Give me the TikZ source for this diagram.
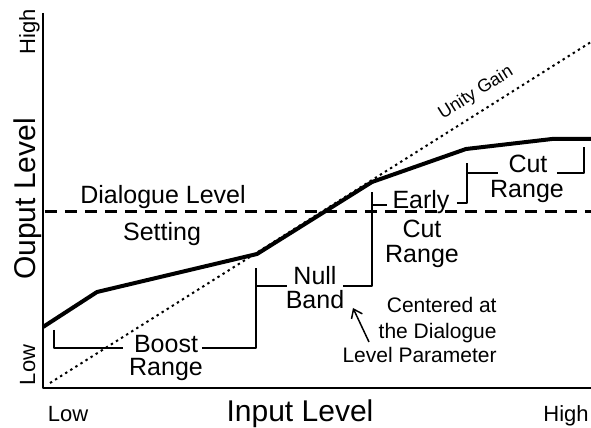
\documentclass[tikz,border=0pt]{standalone}
\usepackage{fontspec}
\setmainfont{Liberation Sans}
\usetikzlibrary{arrows.meta}
\begin{document}
\begin{tikzpicture}[x=.5pt,y=-.5pt,line join=round,
  lab/.style={inner sep=0pt,anchor=base,font=\fontsize{12.5}{15}\selectfont},
  ax/.style={inner sep=0pt,anchor=base,font=\fontsize{11}{13}\selectfont},
  ttl/.style={inner sep=0pt,anchor=base,font=\fontsize{15}{18}\selectfont},
  note/.style={inner sep=0pt,anchor=base east,font=\fontsize{10.5}{12.5}\selectfont},
  brk/.style={line width=.75pt}]
\useasboundingbox (0,0) rectangle (591,428);
% axes
\draw[line width=1pt] (43,13)--(43,388)--(591,388);
\node[ax,rotate=90] (yhi) at (35,32) {High};
\node[ax,rotate=90] (ylo) at (35,365) {Low};
\node[ttl,rotate=90] (ylab) at (35,199) {Ouput Level};
\node[ax] (xlo) at (68,422) {Low};
\node[ttl] (xlab) at (300,422) {Input Level};
\node[ax] (xhi) at (566,422) {High};
% unity gain
\draw[line width=1pt,dash pattern=on 1.2pt off 1.8pt] (50,383)--(591,42);
\node[rotate=32,inner sep=0pt,font=\fontsize{9}{11}\selectfont] (unity) at (476,93) {Unity Gain};
% dialogue level
\draw[line width=1.5pt,dash pattern=on 6pt off 4pt] (45,212)--(591,212);
\node[lab] (dlg) at (163,204) {Dialogue Level};
\node[lab] (set) at (162,241) {Setting};
% gain curve
\draw[line width=2pt] (43,327)--(97,292)--(257,254)--(372,182)--(466,149)--(552,139)--(591,139);
% ranges
\draw[brk] (54,330)--(54,348)--(123,348) (202,348)--(256,348)--(256,268);
\draw[brk] (256,286)--(287,286) (343,286)--(372,286)--(372,192);
\draw[brk] (372,205)--(387,205) (457,203)--(467,203)--(467,163);
\draw[brk] (467,173)--(498,173) (557,173)--(584,173)--(584,147);
\node[lab] (boost) at (166,352) {Boost};
\node[lab] (boostr) at (166,376) {Range};
\node[lab] (null) at (315,285) {Null};
\node[lab] (band) at (315,308) {Band};
\node[lab] (early) at (421,208) {Early};
\node[lab] (ecut) at (422,237) {Cut};
\node[lab] (erange) at (422,263) {Range};
\node[lab] (cut) at (528,172) {Cut};
\node[lab] (crange) at (527,198) {Range};
% note
\node[note] (cen1) at (497,313) {Centered at};
\node[note] (cen2) at (497,338) {the Dialogue};
\node[note] (cen3) at (497,363) {Level Parameter};
\draw[-{Straight Barb[length=4pt,width=6pt]},line width=.75pt] (369,342)--(353,308);
\end{tikzpicture}
\end{document}
